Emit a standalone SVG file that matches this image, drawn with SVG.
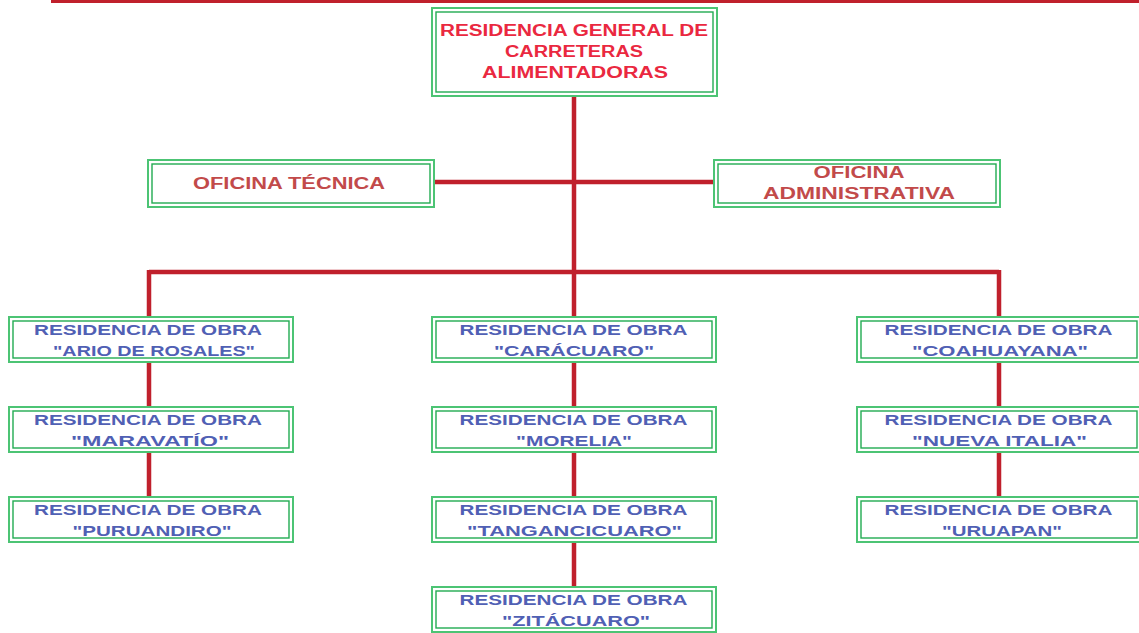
<svg xmlns="http://www.w3.org/2000/svg" width="1139" height="633" viewBox="0 0 1139 633">
<style>
.o{fill:#fff;stroke:#4cc474;stroke-width:2}
.i{fill:none;stroke:#22ab52;stroke-width:1.4}
.t{font-family:"Liberation Sans",Arial,sans-serif;font-weight:bold;text-anchor:middle}
.top{fill:#ea2840;font-size:16px}
.of{fill:#c24a4a;font-size:16px}
.ob{fill:#5060b4;font-size:15.5px}
.c{stroke:#c0202c;stroke-width:4.5;fill:none}
</style>
<rect width="1139" height="633" fill="#fff"/>
<line x1="51" y1="1.5" x2="1139" y2="1.5" stroke="#c0202c" stroke-width="3"/>
<g id="connectors">
<path class="c" d="M574 96V317"/>
<path class="c" d="M434 182H713"/>
<path class="c" d="M149 272H999M149 270V317M999 270V317"/>
<path class="c" d="M149 362V407M149 452V497"/>
<path class="c" d="M574 362V407M574 452V497M574 542V587"/>
<path class="c" d="M999 362V407M999 452V497"/>
</g>
<g id="n-top"><rect class="o" x="432" y="8" width="285" height="88"/><rect class="i" x="436" y="12" width="277" height="80"/>
<text class="t top" x="574" y="36" textLength="268" lengthAdjust="spacingAndGlyphs">RESIDENCIA GENERAL DE</text>
<text class="t top" x="574" y="57" textLength="138" lengthAdjust="spacingAndGlyphs">CARRETERAS</text>
<text class="t top" x="575" y="78" textLength="186" lengthAdjust="spacingAndGlyphs">ALIMENTADORAS</text></g>
<g id="n-tecnica"><rect class="o" x="148" y="160" width="286" height="47"/><rect class="i" x="152" y="164" width="278" height="39"/>
<text class="t of" x="289" y="189" textLength="192" lengthAdjust="spacingAndGlyphs">OFICINA TÉCNICA</text></g>
<g id="n-admin"><rect class="o" x="714" y="160" width="286" height="47"/><rect class="i" x="718" y="164" width="278" height="39"/>
<text class="t of" x="859" y="178" textLength="91" lengthAdjust="spacingAndGlyphs">OFICINA</text>
<text class="t of" x="859" y="199" textLength="192" lengthAdjust="spacingAndGlyphs">ADMINISTRATIVA</text></g>
<g id="n-ario"><rect class="o" x="9" y="317" width="284" height="45"/><rect class="i" x="13" y="321" width="276" height="37"/>
<text class="t ob" x="148" y="335" textLength="228" lengthAdjust="spacingAndGlyphs">RESIDENCIA DE OBRA</text>
<text class="t ob" x="154" y="356" textLength="202" lengthAdjust="spacingAndGlyphs">"ARIO DE ROSALES"</text></g>
<g id="n-maravatio"><rect class="o" x="9" y="407" width="284" height="45"/><rect class="i" x="13" y="411" width="276" height="37"/>
<text class="t ob" x="148" y="425" textLength="228" lengthAdjust="spacingAndGlyphs">RESIDENCIA DE OBRA</text>
<text class="t ob" x="150" y="446" textLength="158" lengthAdjust="spacingAndGlyphs">"MARAVATÍO"</text></g>
<g id="n-puruandiro"><rect class="o" x="9" y="497" width="284" height="45"/><rect class="i" x="13" y="501" width="276" height="37"/>
<text class="t ob" x="148" y="515" textLength="228" lengthAdjust="spacingAndGlyphs">RESIDENCIA DE OBRA</text>
<text class="t ob" x="152" y="536" textLength="159" lengthAdjust="spacingAndGlyphs">"PURUANDIRO"</text></g>
<g id="n-caracuaro"><rect class="o" x="432" y="317" width="284" height="45"/><rect class="i" x="436" y="321" width="276" height="37"/>
<text class="t ob" x="573.5" y="335" textLength="228" lengthAdjust="spacingAndGlyphs">RESIDENCIA DE OBRA</text>
<text class="t ob" x="574" y="356" textLength="160" lengthAdjust="spacingAndGlyphs">"CARÁCUARO"</text></g>
<g id="n-morelia"><rect class="o" x="432" y="407" width="284" height="45"/><rect class="i" x="436" y="411" width="276" height="37"/>
<text class="t ob" x="573.5" y="425" textLength="228" lengthAdjust="spacingAndGlyphs">RESIDENCIA DE OBRA</text>
<text class="t ob" x="574" y="446" textLength="116" lengthAdjust="spacingAndGlyphs">"MORELIA"</text></g>
<g id="n-tangancicuaro"><rect class="o" x="432" y="497" width="284" height="45"/><rect class="i" x="436" y="501" width="276" height="37"/>
<text class="t ob" x="573.5" y="515" textLength="228" lengthAdjust="spacingAndGlyphs">RESIDENCIA DE OBRA</text>
<text class="t ob" x="574.5" y="536" textLength="215" lengthAdjust="spacingAndGlyphs">"TANGANCICUARO"</text></g>
<g id="n-zitacuaro"><rect class="o" x="432" y="587" width="284" height="45"/><rect class="i" x="436" y="591" width="276" height="37"/>
<text class="t ob" x="573.5" y="605" textLength="228" lengthAdjust="spacingAndGlyphs">RESIDENCIA DE OBRA</text>
<text class="t ob" x="576" y="626" textLength="148" lengthAdjust="spacingAndGlyphs">"ZITÁCUARO"</text></g>
<g id="n-coahuayana"><rect class="o" x="857" y="317" width="284" height="45"/><rect class="i" x="861" y="321" width="276" height="37"/>
<text class="t ob" x="998.5" y="335" textLength="228" lengthAdjust="spacingAndGlyphs">RESIDENCIA DE OBRA</text>
<text class="t ob" x="1000" y="356" textLength="176" lengthAdjust="spacingAndGlyphs">"COAHUAYANA"</text></g>
<g id="n-nuevaitalia"><rect class="o" x="857" y="407" width="284" height="45"/><rect class="i" x="861" y="411" width="276" height="37"/>
<text class="t ob" x="998.5" y="425" textLength="228" lengthAdjust="spacingAndGlyphs">RESIDENCIA DE OBRA</text>
<text class="t ob" x="999.5" y="446" textLength="175" lengthAdjust="spacingAndGlyphs">"NUEVA ITALIA"</text></g>
<g id="n-uruapan"><rect class="o" x="857" y="497" width="284" height="45"/><rect class="i" x="861" y="501" width="276" height="37"/>
<text class="t ob" x="998.5" y="515" textLength="228" lengthAdjust="spacingAndGlyphs">RESIDENCIA DE OBRA</text>
<text class="t ob" x="1002" y="536" textLength="120" lengthAdjust="spacingAndGlyphs">"URUAPAN"</text></g>
</svg>
